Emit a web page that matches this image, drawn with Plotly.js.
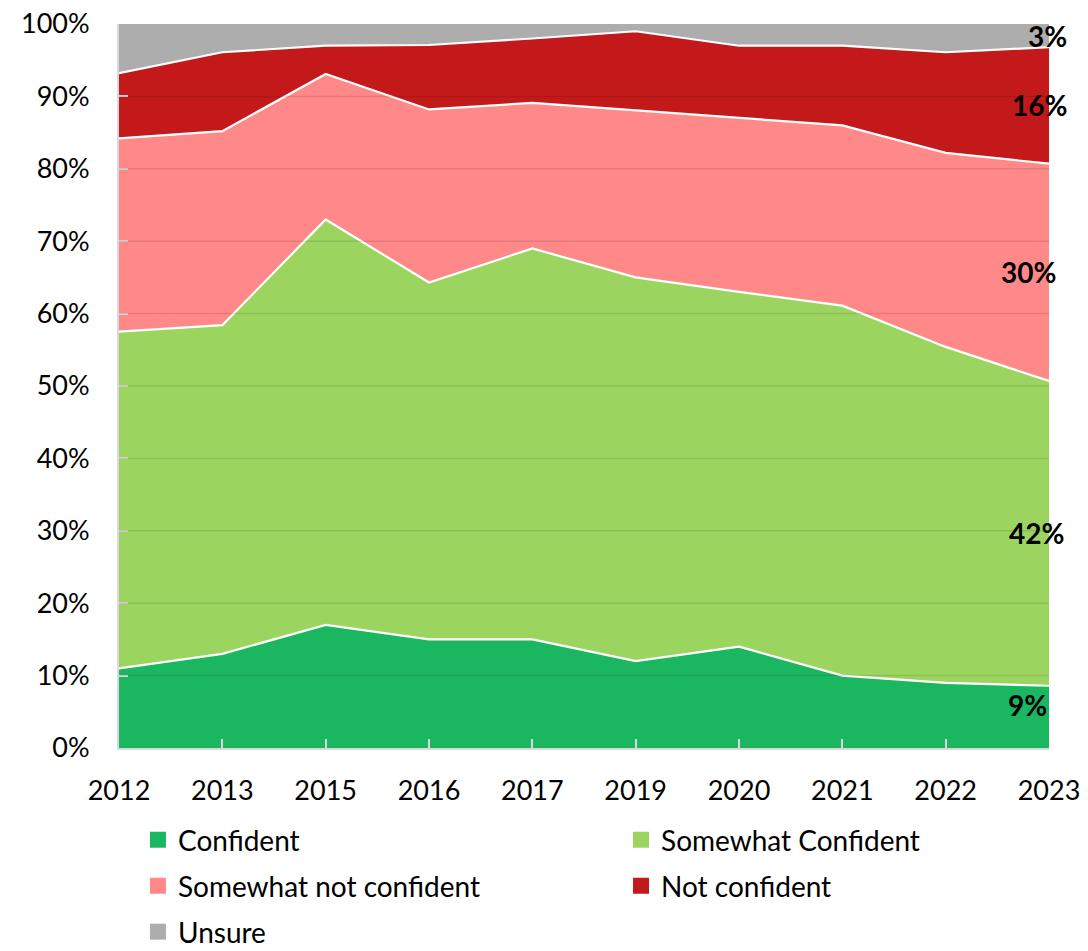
<!DOCTYPE html>
<html>
<head>
<meta charset="utf-8">
<script src="https://cdn.plot.ly/plotly-3.0.1.min.js"></script>
<style>
  html, body { margin: 0; padding: 0; background: #fff; }
  #chart { width: 1088px; height: 951px; }
</style>
</head>
<body>
<div id="chart"></div>
<script>
// ---- data ----
const years = ['2012', '2013', '2015', '2016', '2017', '2019', '2020', '2021', '2022', '2023'];
const confident         = [11.0, 13.0, 17.0, 15.0, 15.0, 12.0, 14.0, 10.0, 9.0, 8.6];
const somewhatConfident = [46.5, 45.4, 56.0, 49.3, 54.0, 53.0, 49.0, 51.1, 46.4, 42.1];
const somewhatNot       = [26.7, 26.8, 20.1, 23.9, 20.1, 23.1, 24.1, 24.9, 26.8, 30.0];
const notConfident      = [9.0, 10.9, 3.9, 8.9, 8.9, 10.9, 9.9, 11.0, 13.9, 16.1];
const unsure            = [6.8, 3.9, 3.0, 2.9, 2.0, 1.0, 3.0, 3.0, 3.9, 3.2];
const seriesNames = ['Confident', 'Somewhat Confident', 'Somewhat not confident', 'Not confident', 'Unsure'];
const endLabels = ['9%', '42%', '30%', '16%', '3%'];
const yTicks = [0, 10, 20, 30, 40, 50, 60, 70, 80, 90, 100];

// ---- styles ----
const colors = ['#1BB760', '#9BD55F', '#FF8888', '#C3191A', '#ADADAD'];
const lineWidths = [2.2, 2.2, 2.2, 2.2, 0];
const labelXShift = [0, 17, 9, 20, 20];
const labelYShift = [12, 0, 0, 0, 0];
// legend placement (container coordinates): two columns, three rows
const legendX = [0.1268, 0.5708, 0.1268, 0.5708, 0.1268];
const legendY = [0.1167, 0.1167, 0.0683, 0.0683, 0.0200];
const FONT = 'Lato, "Open Sans", sans-serif';

const allSeries = [confident, somewhatConfident, somewhatNot, notConfident, unsure];
const legendIds = allSeries.map((_, i) => i === 0 ? 'legend' : 'legend' + (i + 1));

const traces = [];
allSeries.forEach((vals, i) => {
  traces.push({
    type: 'scatter',
    mode: 'lines',
    x: years,
    y: vals,
    name: seriesNames[i],
    stackgroup: 'one',
    line: { color: '#FFFFFF', width: lineWidths[i] },
    fillcolor: colors[i],
    showlegend: false,
    hoverinfo: 'skip'
  });
});
// legend entries (square swatches)
allSeries.forEach((vals, i) => {
  traces.push({
    type: 'scatter',
    mode: 'markers',
    x: [null],
    y: [null],
    name: seriesNames[i],
    marker: { symbol: 'square', size: 17, color: colors[i] },
    legend: legendIds[i],
    showlegend: true
  });
});

// end-of-series labels at the middle of each band in the last year
const annotations = [];
let cum = 0;
const last = years.length - 1;
allSeries.forEach((vals, i) => {
  const lo = cum;
  cum += vals[last];
  annotations.push({
    x: last,
    y: (lo + cum) / 2,
    xref: 'x', yref: 'y',
    text: '<b>' + endLabels[i] + '</b>',
    showarrow: false,
    xanchor: 'right',
    yanchor: 'middle',
    xshift: labelXShift[i],
    yshift: labelYShift[i],
    font: { family: FONT, size: 28, color: '#000000' }
  });
});

// horizontal gridlines drawn over the filled areas
const shapes = yTicks.filter(v => v > 0 && v < 100).map(v => ({
  type: 'line', xref: 'paper', yref: 'y', x0: 0, x1: 1, y0: v, y1: v,
  line: { color: 'rgba(0,0,0,0.1)', width: 1.5 },
  layer: 'above'
}));

const layout = {
  width: 1088,
  height: 951,
  margin: { l: 119, r: 39, t: 24, b: 203, autoexpand: false },
  paper_bgcolor: '#FFFFFF',
  plot_bgcolor: '#FFFFFF',
  font: { family: FONT, size: 27, color: '#000000' },
  xaxis: {
    type: 'category',
    range: [0, years.length - 1],
    showgrid: false,
    zeroline: false,
    showline: true,
    linecolor: '#D9D9D9',
    linewidth: 2,
    ticks: 'inside',
    ticklen: 9,
    tickwidth: 2,
    tickcolor: '#D9D9D9',
    layer: 'above traces',
    ticklabelstandoff: 18,
    tickfont: { family: FONT, size: 27, color: '#000000' }
  },
  yaxis: {
    range: [0, 100],
    tickvals: yTicks,
    ticktext: yTicks.map(v => v + '%'),
    showgrid: false,
    zeroline: false,
    showline: true,
    linecolor: '#D9D9D9',
    linewidth: 2,
    ticks: 'inside',
    ticklen: 9,
    tickwidth: 2,
    tickcolor: '#D9D9D9',
    layer: 'above traces',
    ticklabelstandoff: 22,
    tickfont: { family: FONT, size: 27, color: '#000000' }
  },
  annotations: annotations,
  shapes: shapes,
  showlegend: true,
  hovermode: false
};
legendIds.forEach((id, i) => {
  layout[id] = {
    orientation: 'h',
    xref: 'container',
    yref: 'container',
    xanchor: 'left',
    yanchor: 'middle',
    x: legendX[i],
    y: legendY[i],
    font: { family: FONT, size: 28, color: '#000000' },
    bgcolor: 'rgba(0,0,0,0)',
    itemclick: false
  };
});

Plotly.newPlot('chart', traces, layout, { displayModeBar: false, staticPlot: true });
</script>
</body>
</html>
